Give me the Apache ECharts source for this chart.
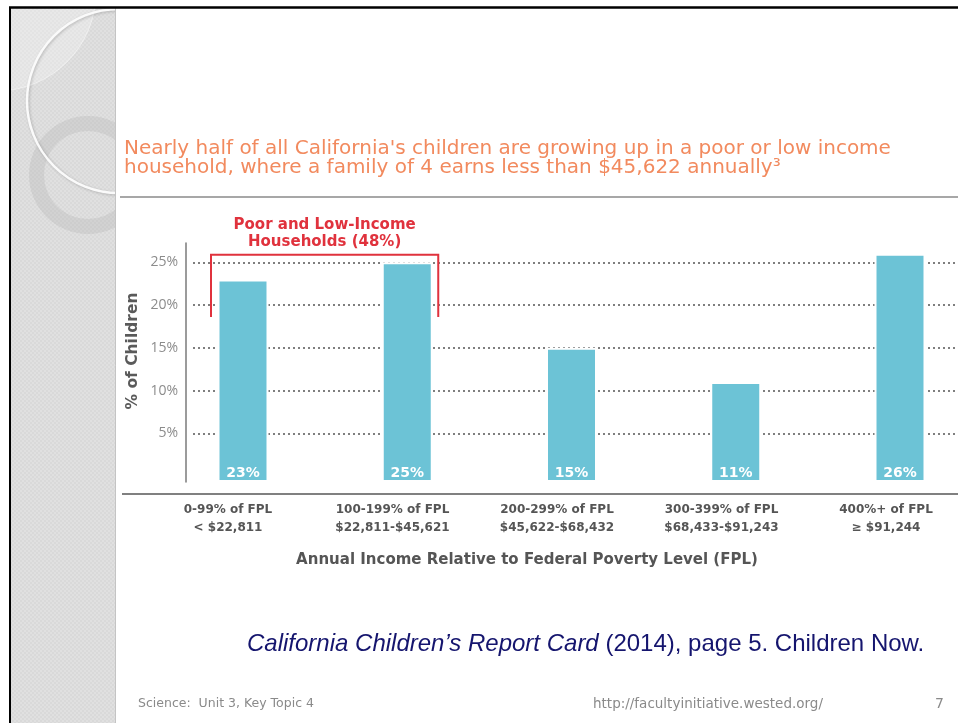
<!DOCTYPE html>
<html><head><meta charset="utf-8">
<script src="https://cdn.jsdelivr.net/npm/echarts@6/dist/echarts.min.js"></script>
<style>html,body{margin:0;padding:0;background:#fff}#c{width:958px;height:723px}</style>
</head><body><div id="c"></div><script>
// ---- data ----
const fplRanges = ['0-99% of FPL', '100-199% of FPL', '200-299% of FPL', '300-399% of FPL', '400%+ of FPL'];
const incomeRanges = ['< $22,811', '$22,811-$45,621', '$45,622-$68,432', '$68,433-$91,243', '\u2265 $91,244'];
const childShare = [23, 25, 15, 11, 26];
const bracketCategories = [0, 1];        // poor + low income groups
const bracketLevels = [25.9, 18.6];      // bracket top / end of legs (value units)
const titleLines = ["Nearly half of all California's children are growing up in a poor or low income",
                    "household, where a family of 4 earns less than $45,622 annually\u00b3"];

const categories = fplRanges.map((f, i) => f + '\n' + incomeRanges[i]);
const chart = echarts.init(document.getElementById('c'), null, {renderer: 'canvas'});

// checker pattern for the left strip
const pc = document.createElement('canvas'); pc.width = 4; pc.height = 4;
const g = pc.getContext('2d');
g.fillStyle = '#e0e0e0'; g.fillRect(0, 0, 4, 4);
g.fillStyle = '#d9d9d9'; g.fillRect(0, 0, 2, 2); g.fillRect(2, 2, 2, 2);

const YMAX = 27.26;
chart.setOption({
  animation: false,
  backgroundColor: '#fff',
  grid: [
    {left: 193, right: 0, top: 243, bottom: 247},
    {left: 243, right: 58, top: 243, bottom: 241},
    {left: 228, right: 72, top: 243, bottom: 247}
  ],
  xAxis: [
    {gridIndex: 0, type: 'category', data: categories, show: false},
    {gridIndex: 1, type: 'category', data: categories, boundaryGap: false,
     axisLine: {show: false}, axisTick: {show: false}, axisLabel: {show: false}, splitLine: {show: false}},
    {gridIndex: 2, type: 'category', data: categories, boundaryGap: false,
     axisLine: {show: false}, axisTick: {show: false}, splitLine: {show: false},
     axisLabel: {interval: 0, color: '#555', fontFamily: 'DejaVu Sans', fontWeight: 'bold',
                 fontSize: 12, lineHeight: 18, margin: 25}}
  ],
  yAxis: [
    {gridIndex: 0, type: 'value', min: 0, max: YMAX, interval: 5,
     axisLine: {show: false}, axisTick: {show: false},
     axisLabel: {formatter: '{value}%', color: '#8c8c8c', fontSize: 14, fontFamily: 'Open Sans',
                 margin: 15, showMinLabel: false, showMaxLabel: false},
     splitLine: {show: true, showMinLine: false, showMaxLine: false,
                 lineStyle: {type: [2, 3], color: '#555', width: 1.5}}},
    {gridIndex: 1, type: 'value', min: -0.7, max: YMAX, startValue: -0.7, offset: 57,
     axisLine: {show: true, lineStyle: {color: '#7a7a7a', width: 1.5}},
     axisTick: {show: false}, axisLabel: {show: false}, splitLine: {show: false}},
    {gridIndex: 2, type: 'value', min: 0, max: YMAX, show: false}
  ],
  series: [{
    type: 'bar', xAxisIndex: 1, yAxisIndex: 1, data: childShare, barWidth: 51,
    itemStyle: {color: '#6cc3d6', borderColor: '#fff', borderWidth: 2},
    label: {show: true, position: 'insideBottom', distance: 2, formatter: '{c}%',
            color: '#fff', fontWeight: 'bold', fontSize: 14, fontFamily: 'DejaVu Sans'}
  }]
});

const pL = chart.convertToPixel({gridIndex: 1}, [bracketCategories[0], bracketLevels[0]]);
const pR = chart.convertToPixel({gridIndex: 1}, [bracketCategories[1], bracketLevels[0]]);
const yBot = chart.convertToPixel({gridIndex: 1}, [0, bracketLevels[1]])[1];
const xl = pL[0] - 32, xr = pR[0] + 31, yt = pL[1];

chart.setOption({
  graphic: [
    // left decorative strip
    {type: 'rect', z: -30, shape: {x: 10, y: 7, width: 106, height: 716}, style: {fill: {image: pc, repeat: 'repeat'}}},
    {type: 'circle', z: -29, shape: {cx: -3, cy: -8, r: 99}, style: {fill: 'rgba(255,255,255,0.28)', stroke: 'rgba(255,255,255,0.45)', lineWidth: 1}},
    {type: 'ring', z: -28, shape: {cx: 88, cy: 175, r: 59, r0: 44}, style: {fill: 'rgba(150,150,150,0.18)'}},
    {type: 'circle', z: -27, shape: {cx: 119, cy: 101, r: 92},
     style: {fill: 'none', stroke: '#fafafa', lineWidth: 2.5, shadowBlur: 3, shadowColor: 'rgba(0,0,0,0.2)', shadowOffsetX: 1, shadowOffsetY: 1}},
    // white covers
    {type: 'rect', z: -20, shape: {x: 116, y: 0, width: 842, height: 723}, style: {fill: '#fff'}},
    {type: 'rect', z: -20, shape: {x: 0, y: 0, width: 958, height: 7}, style: {fill: '#fff'}},
    {type: 'rect', z: -20, shape: {x: 0, y: 0, width: 10, height: 723}, style: {fill: '#fff'}},
    {type: 'line', z: -19, shape: {x1: 115.5, y1: 8, x2: 115.5, y2: 723}, style: {stroke: '#c4c4c4', lineWidth: 1}},
    // slide frame
    {type: 'line', z: -18, shape: {x1: 9, y1: 7.5, x2: 958, y2: 7.5}, style: {stroke: '#000', lineWidth: 2.5}},
    {type: 'line', z: -18, shape: {x1: 10, y1: 7, x2: 10, y2: 723}, style: {stroke: '#000', lineWidth: 2}},
    // title
    {type: 'text', x: 124, y: 140, style: {text: titleLines.join('\n'), fill: '#f28a5e',
      fontFamily: 'DejaVu Sans', fontSize: 20, lineHeight: 18.5}},
    {type: 'line', shape: {x1: 120, y1: 197, x2: 958, y2: 197}, style: {stroke: '#8a8a8a', lineWidth: 1.5}},
    // baseline
    {type: 'line', shape: {x1: 122, y1: 494, x2: 958, y2: 494}, style: {stroke: '#808080', lineWidth: 2}},
    // y axis name
    {type: 'text', x: 133, y: 351, rotation: Math.PI / 2,
     style: {text: '% of Children', fill: '#5a5a5a', fontFamily: 'DejaVu Sans', fontWeight: 'bold', fontSize: 15.5,
             align: 'center', verticalAlign: 'middle'}},
    // x axis name
    {type: 'text', x: 527, y: 560, style: {text: 'Annual Income Relative to Federal Poverty Level (FPL)', fill: '#555',
      fontFamily: 'DejaVu Sans', fontWeight: 'bold', fontSize: 15, align: 'center', verticalAlign: 'middle'}},
    // bracket annotation
    {type: 'polyline', shape: {points: [[xl, yBot], [xl, yt], [xr, yt], [xr, yBot]]},
     style: {stroke: '#e0323d', lineWidth: 2, fill: 'none'}},
    {type: 'text', x: (xl + xr) / 2, y: 233.5, style: {text: 'Poor and Low-Income\nHouseholds (48%)', fill: '#e0323d',
      fontFamily: 'DejaVu Sans', fontWeight: 'bold', fontSize: 15, lineHeight: 17, align: 'center', verticalAlign: 'middle'}},
    // citation
    {type: 'text', x: 247, y: 644, style: {
      text: '{i|California Children\u2019s Report Card}{n| (2014), page 5. Children Now.}',
      fill: '#15156e', fontFamily: 'Liberation Sans', fontSize: 24, verticalAlign: 'middle',
      rich: {i: {fontStyle: 'italic', fontFamily: 'Liberation Sans', fontSize: 24, fill: '#15156e'},
             n: {fontFamily: 'Liberation Sans', fontSize: 24, fill: '#15156e'}}}},
    // footer
    {type: 'text', x: 138, y: 704, style: {text: 'Science:  Unit 3, Key Topic 4', fill: '#8a8a8a',
      fontFamily: 'DejaVu Sans', fontSize: 12.5, verticalAlign: 'middle'}},
    {type: 'text', x: 593, y: 704, style: {text: 'http://facultyinitiative.wested.org/', fill: '#8a8a8a',
      fontFamily: 'DejaVu Sans', fontSize: 13.5, verticalAlign: 'middle'}},
    {type: 'text', x: 935, y: 704, style: {text: '7', fill: '#8a8a8a',
      fontFamily: 'DejaVu Sans', fontSize: 14, verticalAlign: 'middle'}}
  ]
});
</script></body></html>
